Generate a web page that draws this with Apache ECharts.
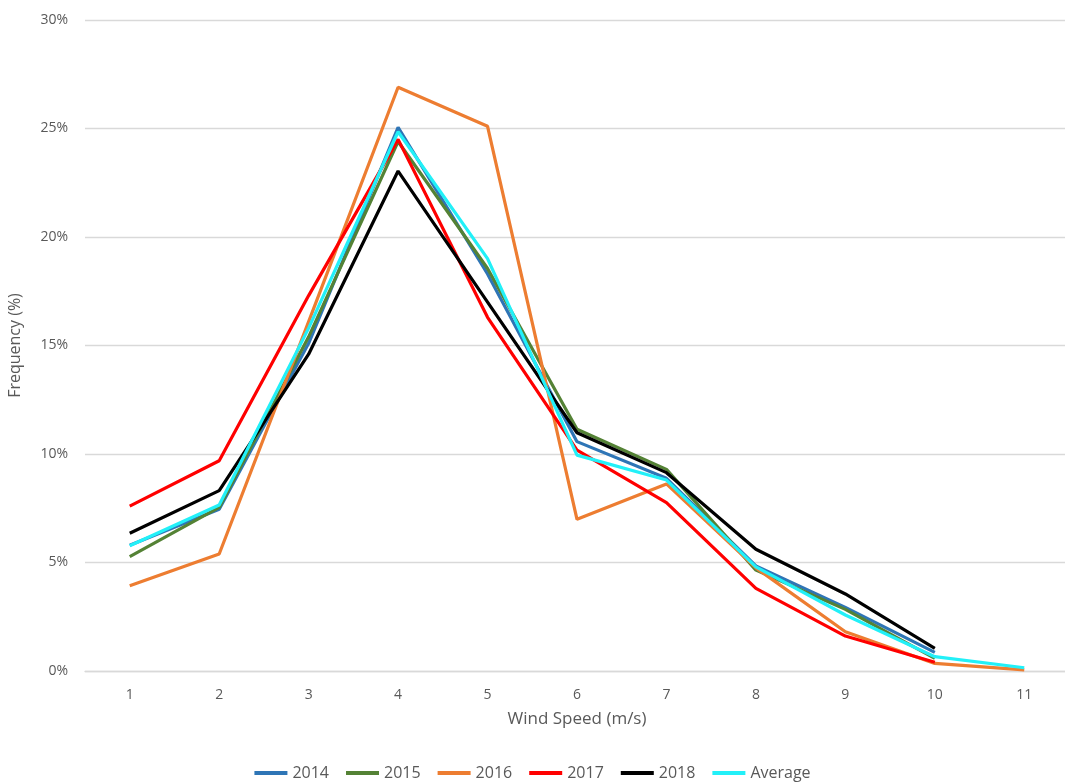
<!DOCTYPE html>
<html>
<head>
<meta charset="utf-8">
<script src="https://cdn.jsdelivr.net/npm/echarts@6/dist/echarts.min.js"></script>
<style>html,body{margin:0;padding:0;background:#fff;}#c{width:1065px;height:782px;}</style>
</head>
<body>
<div id="c"></div>
<script>
const categories = ['1','2','3','4','5','6','7','8','9','10','11'];
const s2014 = [5.8, 7.45, 15.1, 25.05, 18.3, 10.57, 8.88, 4.84, 2.93, 0.86, null];
const s2015 = [5.27, 7.54, 15.4, 24.4, 18.55, 11.14, 9.29, 4.65, 2.84, 0.58, null];
const s2016 = [3.93, 5.39, 16.1, 26.9, 25.1, 6.99, 8.62, 4.75, 1.81, 0.35, 0.05];
const s2017 = [7.6, 9.69, 17.3, 24.5, 16.3, 10.18, 7.76, 3.81, 1.61, 0.40, null];
const s2018 = [6.35, 8.31, 14.6, 23.04, 17.0, 10.98, 9.14, 5.61, 3.55, 1.04, null];
const sAvg = [5.77, 7.65, 15.8, 24.85, 19.0, 9.95, 8.8, 4.8, 2.58, 0.66, 0.15];
const yTicks = [0, 5, 10, 15, 20, 25, 30];

const names = ['2014','2015','2016','2017','2018','Average'];
const datas = [s2014, s2015, s2016, s2017, s2018, sAvg];
const colors = ['#2E75B6','#548235','#ED7D31','#FF0000','#000000','#22F0F8'];
const font = 'Open Sans, Liberation Sans, sans-serif';

const chart = echarts.init(document.getElementById('c'));
chart.setOption({
  animation: false,
  backgroundColor: '#fff',
  color: colors,
  grid: {left: 85, right: -4, top: 20, bottom: 111, containLabel: false, outerBoundsMode: 'none'},
  legend: {
    top: 760, left: 'center',
    data: names,
    icon: 'rect', itemWidth: 33, itemHeight: 4, itemGap: 17,
    textStyle: {color: '#595959', fontSize: 16, fontFamily: font}
  },
  xAxis: {
    type: 'category', data: categories, boundaryGap: true,
    name: 'Wind Speed (m/s)', nameLocation: 'middle', nameGap: 40,
    nameTextStyle: {color: '#595959', fontSize: 17, fontFamily: font},
    axisLine: {lineStyle: {color: '#d9d9d9', width: 1.3}},
    axisTick: {show: false},
    axisLabel: {color: '#595959', fontSize: 14, fontFamily: font, margin: 17}
  },
  yAxis: {
    type: 'value', min: 0, max: 30, interval: 5,
    name: 'Frequency (%)', nameLocation: 'middle', nameGap: 62,
    nameTextStyle: {color: '#595959', fontSize: 16, fontFamily: font},
    axisLine: {show: false}, axisTick: {show: false},
    axisLabel: {color: '#595959', fontSize: 14, fontFamily: font, margin: 17,
      formatter: v => yTicks.includes(v) ? v + '%' : ''},
    splitLine: {lineStyle: {color: '#d9d9d9', width: 1.3}}
  },
  series: names.map((n, i) => ({
    name: n, type: 'line', data: datas[i], showSymbol: false, symbol: 'none',
    lineStyle: {width: 3.2, color: colors[i]}, itemStyle: {color: colors[i]},
    connectNulls: false, z: 2 + i
  }))
});
</script>
</body>
</html>
